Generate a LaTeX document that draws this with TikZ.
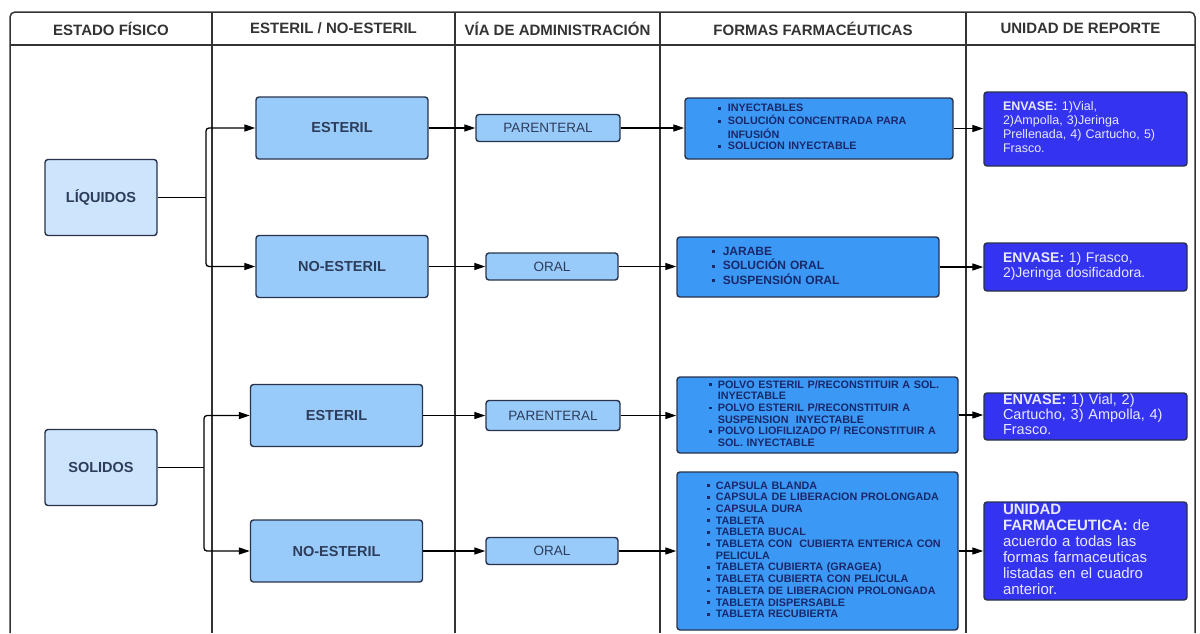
\documentclass[tikz,border=0pt]{standalone}
\usepackage{fontspec}
\setmainfont{Liberation Sans}
\usetikzlibrary{arrows.meta}
\definecolor{pale}{RGB}{204,228,252}
\definecolor{sky}{RGB}{153,203,250}
\definecolor{azure}{RGB}{59,153,245}
\definecolor{deep}{RGB}{51,51,240}
\definecolor{edge}{RGB}{40,50,75}
\definecolor{ink}{RGB}{51,51,51}
\definecolor{label}{RGB}{45,60,90}
\definecolor{navy}{RGB}{25,40,105}
\definecolor{snow}{RGB}{232,232,255}
\newcommand{\blt}{\rule[2pt]{2.8pt}{2.8pt}}
\tikzset{
	grid/.style={draw=ink, line width=1.5pt},
	head/.style={font=\fontsize{15}{17}\selectfont\bfseries, text=ink},
	box/.style={draw=edge, line width=1.4pt, rounded corners=3pt, inner sep=0pt},
	phys/.style={box, fill=pale, text=label, minimum width=112pt, minimum height=76pt, font=\fontsize{14.5}{16}\selectfont\bfseries},
	ster/.style={box, fill=sky, text=label, minimum width=172pt, minimum height=62pt, font=\fontsize{14.5}{16}\selectfont\bfseries},
	via/.style={box, fill=sky, text=label, minimum height=27pt, font=\fontsize{13.5}{15}\selectfont},
	forma/.style={box, fill=azure, text=navy, align=left, font=\fontsize{10.8}{11.7}\selectfont\bfseries},
	envase/.style={box, fill=deep, text=snow, align=left},
	line/.style={draw=black, line width=1.3pt},
	arr/.style={line, -{Triangle[length=11pt,width=7pt]}}
}
\begin{document}
\begin{tikzpicture}[x=1pt,y=-1pt]
			%%%%% START %%%%%
			\useasboundingbox (0,0) rectangle (1200,633);
			
			% table
			\draw[grid, rounded corners=5pt] (10,633) -- (10,12) -- (1195,12) -- (1195,633);
			\draw[grid] (10,45) -- (1195,45);
			\foreach \x in {212,455,660,966}
				\draw[grid] (\x,12) -- (\x,633);
			
			\node[head] (h1) at (111,28.5) {ESTADO FÍSICO};
			\node[head] (h2) at (333.5,28.5) {ESTERIL / NO-ESTERIL};
			\node[head] (h3) at (557.5,28.5) {VÍA DE ADMINISTRACIÓN};
			\node[head] (h4) at (813,28.5) {FORMAS FARMACÉUTICAS};
			\node[head] (h5) at (1080.5,28.5) {UNIDAD DE REPORTE};
			
			% liquidos
			\node[phys] (liq) at (101,197.5) {LÍQUIDOS};
			\node[ster] (lest) at (342,128) {ESTERIL};
			\node[ster] (lnes) at (342,266.5) {NO-ESTERIL};
			\node[via, minimum width=144pt] (lpar) at (548,128) {PARENTERAL};
			\node[via, minimum width=132pt] (lora) at (552,266.5) {ORAL};
			
			\node[forma, text width=268pt, minimum height=61pt] (lfp) at (819,128.5) {\hspace*{33pt}\begin{tabular}{@{}l@{\hspace{7pt}}l@{}}
				\blt & INYECTABLES\\
				\blt & SOLUCIÓN CONCENTRADA PARA\\
				& INFUSIÓN\\
				\blt & SOLUCION INYECTABLE
			\end{tabular}};
			\node[forma, text width=262pt, minimum height=60pt, font=\fontsize{12}{13.3}\selectfont\bfseries] (lfo) at (808,267) {\hspace*{35pt}\begin{tabular}{@{}l@{\hspace{8pt}}l@{}}
				\blt & JARABE\\
				\blt & SOLUCIÓN ORAL\\
				\blt & SUSPENSIÓN ORAL
			\end{tabular}};
			
			\node[envase, text width=203pt, minimum height=74pt, font=\fontsize{12.5}{14}\selectfont] (lup) at (1085.5,129) {\hspace*{19pt}\begin{tabular}{@{}l@{}}
				\textbf{ENVASE:} 1)Vial,\\
				2)Ampolla, 3)Jeringa\\
				Prellenada, 4) Cartucho, 5)\\
				Frasco.
			\end{tabular}};
			\node[envase, text width=203pt, minimum height=48pt, font=\fontsize{14}{14.5}\selectfont] (luo) at (1085.5,267) {\hspace*{19pt}\begin{tabular}{@{}l@{}}
				\textbf{ENVASE:} 1) Frasco,\\
				2)Jeringa dosificadora.
			\end{tabular}};
			
			% solidos
			\node[phys] (sol) at (101,467.5) {SOLIDOS};
			\node[ster] (sest) at (336.5,415.5) {ESTERIL};
			\node[ster] (snes) at (336.5,551) {NO-ESTERIL};
			\node[via, minimum width=134pt, minimum height=30pt] (spar) at (553,415.5) {PARENTERAL};
			\node[via, minimum width=132pt] (sora) at (552,551) {ORAL};
			
			\node[forma, text width=281pt, minimum height=76pt] (sfp) at (817.5,415) {\hspace*{32pt}\begin{tabular}{@{}l@{\hspace{6pt}}l@{}}
				\blt & POLVO ESTERIL P/RECONSTITUIR A SOL.\\
				& INYECTABLE\\
				\blt & POLVO ESTERIL P/RECONSTITUIR A\\
				& SUSPENSION\ \ INYECTABLE\\
				\blt & POLVO LIOFILIZADO P/ RECONSTITUIR A\\
				& SOL. INYECTABLE
			\end{tabular}};
			\node[forma, text width=281pt, minimum height=158pt] (sfo) at (817.5,551) {\hspace*{30pt}\begin{tabular}{@{}l@{\hspace{6pt}}l@{}}
				\blt & CAPSULA BLANDA\\
				\blt & CAPSULA DE LIBERACION PROLONGADA\\
				\blt & CAPSULA DURA\\
				\blt & TABLETA\\
				\blt & TABLETA BUCAL\\
				\blt & TABLETA CON\ \ CUBIERTA ENTERICA CON\\
				& PELICULA\\
				\blt & TABLETA CUBIERTA (GRAGEA)\\
				\blt & TABLETA CUBIERTA CON PELICULA\\
				\blt & TABLETA DE LIBERACION PROLONGADA\\
				\blt & TABLETA DISPERSABLE\\
				\blt & TABLETA RECUBIERTA
			\end{tabular}};
			
			\node[envase, text width=203pt, minimum height=47pt, font=\fontsize{14.5}{15}\selectfont] (sup) at (1085.5,416.5) {\hspace*{19pt}\begin{tabular}{@{}l@{}}
				\textbf{ENVASE:} 1) Vial, 2)\\
				Cartucho, 3) Ampolla, 4)\\
				Frasco.
			\end{tabular}};
			\node[envase, text width=203pt, minimum height=98pt, font=\fontsize{15}{16}\selectfont] (suo) at (1085.5,551) {\hspace*{19pt}\begin{tabular}{@{}l@{}}
				\textbf{UNIDAD}\\
				\textbf{FARMACEUTICA:} de\\
				acuerdo a todas las\\
				formas farmaceuticas\\
				listadas en el cuadro\\
				anterior.
			\end{tabular}};
			
			% connectors
			\coordinate (lj) at (206,197.5);
			\draw[line] (liq.east) -- (lj);
			\draw[arr, rounded corners=3pt] (lj) |- (lest.west);
			\draw[arr, rounded corners=3pt] (lj) |- (lnes.west);
			\coordinate (sj) at (204,467.5);
			\draw[line] (sol.east) -- (sj);
			\draw[arr, rounded corners=3pt] (sj) |- (sest.west);
			\draw[arr, rounded corners=3pt] (sj) |- (snes.west);
			
			\draw[arr] (lest.east) -- (lpar.west);
			\draw[arr] (lnes.east) -- (lora.west);
			\draw[arr] (sest.east) -- (spar.west);
			\draw[arr] (snes.east) -- (sora.west);
			
			\draw[arr] (lpar.east) -- (lpar.east -| lfp.west);
			\draw[arr] (lora.east) -- (lora.east -| lfo.west);
			\draw[arr] (spar.east) -- (spar.east -| sfp.west);
			\draw[arr] (sora.east) -- (sora.east -| sfo.west);
			
			\draw[arr] (lfp.east) -- (lfp.east -| lup.west);
			\draw[arr] (lfo.east) -- (lfo.east -| luo.west);
			\draw[arr] (sfp.east) -- (sfp.east -| sup.west);
			\draw[arr] (sfo.east) -- (sfo.east -| suo.west);
			
			%%%%% END %%%%%
\end{tikzpicture}
\end{document}
